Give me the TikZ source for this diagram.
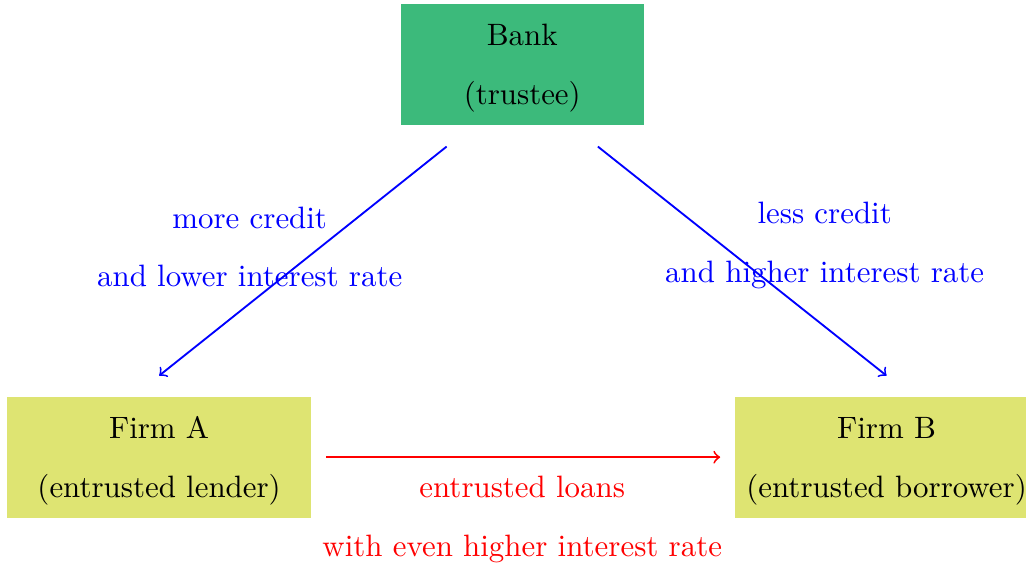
\documentclass[tikz,border=0pt]{standalone}
\usetikzlibrary{positioning}
\definecolor{bankgreen}{RGB}{60,186,123}
\definecolor{firmyellow}{RGB}{222,228,114}

\begin{document}
\begin{tikzpicture}[
  bankbox/.style={fill=bankgreen, align=center, minimum width=2.76cm, minimum height=1.38cm},
  firmbox/.style={fill=firmyellow, align=center, minimum width=3.45cm, minimum height=1.38cm},
  lbl/.style={align=center},
  flow/.style={->, semithick}
]
 \useasboundingbox (0,0) rectangle (11.67,-6.40);
 \node[bankbox] (bank) at (5.94,-0.73) {\rule{0pt}{9.5pt}Bank\\[7pt](trustee)};
 \node[firmbox] (firmA) at (1.81,-5.20) {\rule{0pt}{9.5pt}Firm A\\[7pt](entrusted lender)};
 \node[firmbox, right=4.81cm of firmA] (firmB) {\rule{0pt}{9.5pt}Firm B\\[7pt](entrusted borrower)};
 %
 \draw[flow, blue] ([xshift=-0.86cm, yshift=-0.24cm]bank.south) -- ([yshift=0.23cm]firmA.north);
 \draw[flow, blue] ([xshift=0.86cm, yshift=-0.24cm]bank.south) -- ([yshift=0.23cm]firmB.north);
 \draw[flow, red] ([xshift=0.17cm]firmA.east) -- ([xshift=-0.16cm]firmB.west);
 %
 \node[lbl, blue] (morelbl) at (2.84,-2.81) {more credit\\[7pt]and lower interest rate};
 \node[lbl, blue] (lesslbl) at (9.38,-2.79) {less credit\\[7pt]and higher interest rate};
 \node[lbl, red] (loanlbl) at (5.94,-5.91) {entrusted loans\\[7pt]with even higher interest rate};
\end{tikzpicture}
\end{document}
